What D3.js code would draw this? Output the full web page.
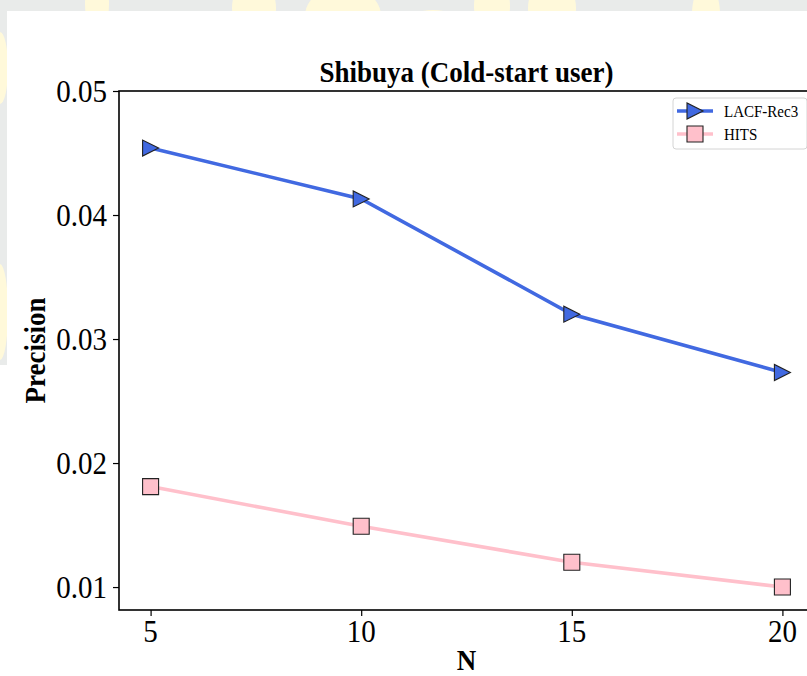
<!DOCTYPE html>
<html>
<head>
<meta charset="utf-8">
<script src="https://cdn.jsdelivr.net/npm/d3@7"></script>
<style>
  html, body { margin: 0; padding: 0; background: #e9ebea; }
  svg { display: block; }
  text { font-family: "Liberation Serif", "Times New Roman", serif; fill: #000; }
</style>
</head>
<body>
<svg id="chart" width="807" height="676"></svg>
<script>
// Top-N recommendation precision, cold-start users in Shibuya
const nValues = [5, 10, 15, 20];
const lacfRec3 = [0.0454, 0.0413, 0.0320, 0.0273];
const hits = [0.0181, 0.0149, 0.0120, 0.0100];
const yTicks = [0.01, 0.02, 0.03, 0.04, 0.05];
const xTicks = [5, 10, 15, 20];
const seriesNames = ["LACF-Rec3", "HITS"];

const W = 807, H = 676;
const STRETCH = 1.08;   // glyphs are drawn slightly taller than wide
const SERIF = '"Liberation Serif", "Times New Roman", serif';
const svg = d3.select("#chart");

// page frame: grey margin with soft yellow pattern, white figure area
svg.append("rect").attr("width", W).attr("height", H).attr("fill", "#e9ebea");
const clip = svg.append("defs").append("clipPath").attr("id", "frame");
clip.append("rect").attr("x", 0).attr("y", 0).attr("width", W).attr("height", 11);
clip.append("rect").attr("x", 0).attr("y", 0).attr("width", 7).attr("height", 365);
const deco = svg.append("g").attr("clip-path", "url(#frame)").attr("fill", "#fff9da");
[[97, 4, 12, 30], [254, 8, 22, 30], [343, 16, 38, 30], [433, 24, 28, 14],
 [492, 6, 18, 30], [552, 8, 24, 30], [706, 14, 14, 30], [0, 68, 8, 36], [0, 312, 8, 48]]
  .forEach(([cx, cy, rx, ry]) => deco.append("ellipse")
    .attr("cx", cx).attr("cy", cy).attr("rx", rx).attr("ry", ry));
svg.append("rect").attr("x", 7).attr("y", 11).attr("width", W - 7).attr("height", H - 11).attr("fill", "#fff");
svg.append("rect").attr("x", 0).attr("y", 365).attr("width", 7).attr("height", H - 365).attr("fill", "#fff");

const plot = { left: 119, right: 814, top: 91, bottom: 610 };

const x = d3.scaleLinear().domain([4.25, 20.75]).range([plot.left, plot.right]);
const y = d3.scaleLinear().domain([0.00815, 0.05]).range([plot.bottom, plot.top]);

// text helper: places a label at (tx, ty) with the vertical stretch applied
function label(parent, tx, ty, str, size, opts = {}) {
  const t = parent.append("text")
    .attr("transform", `translate(${tx},${ty})${opts.rotate ? ` rotate(${opts.rotate})` : ""} scale(1,${STRETCH})`)
    .attr("text-anchor", opts.anchor || "start")
    .attr("dy", opts.dy || null)
    .style("font-family", SERIF)
    .style("font-size", size + "px")
    .style("font-weight", opts.bold ? "bold" : "normal")
    .text(str);
  return t;
}

// axes: ticks from d3, labels drawn with the serif helper
const xAxis = svg.append("g").attr("transform", `translate(0,${plot.bottom})`)
  .call(d3.axisBottom(x).tickValues(xTicks).tickFormat("").tickSize(6).tickSizeOuter(0));
const yAxis = svg.append("g").attr("transform", `translate(${plot.left},0)`)
  .call(d3.axisLeft(y).tickValues(yTicks).tickFormat("").tickSize(6).tickSizeOuter(0));
[xAxis, yAxis].forEach(g => {
  g.select(".domain").remove();
  g.selectAll(".tick line").attr("stroke", "#000").attr("stroke-width", 1.2);
});
const fmtY = d3.format(".2f");
yTicks.forEach(v => label(svg, plot.left - 12, y(v), fmtY(v), 29, { anchor: "end", dy: "0.34em" }));
xTicks.forEach(v => label(svg, x(v), plot.bottom + 32, String(v), 29, { anchor: "middle" }));

// spines (right edge falls outside the page)
svg.append("rect").attr("x", plot.left).attr("y", plot.top)
  .attr("width", plot.right - plot.left).attr("height", plot.bottom - plot.top)
  .attr("fill", "none").attr("stroke", "#000").attr("stroke-width", 1.6);

// series
const triPath = "M8,0 L-8,-8 L-8,8 Z";
const sqPath = "M-8,-8 H8 V8 H-8 Z";
const series = [
  { name: seriesNames[0], values: lacfRec3, color: "#4169e1", marker: triPath },
  { name: seriesNames[1], values: hits, color: "#ffc0cb", marker: sqPath }
];
const line = d3.line().x((d, i) => x(nValues[i])).y(d => y(d));
series.forEach(s => {
  svg.append("path").datum(s.values).attr("d", line)
    .attr("fill", "none").attr("stroke", s.color).attr("stroke-width", 3.6);
  svg.append("g").selectAll("path").data(s.values).join("path")
    .attr("transform", (d, i) => `translate(${x(nValues[i])},${y(d)})`)
    .attr("d", s.marker).attr("fill", s.color).attr("stroke", "#222").attr("stroke-width", 1.1);
});

// title and axis labels
const cx = (plot.left + plot.right) / 2;
label(svg, cx, 82, "Shibuya (Cold-start user)", 27, { anchor: "middle", bold: true });
label(svg, cx, 670, "N", 27, { anchor: "middle", bold: true });
label(svg, 45, (plot.top + plot.bottom) / 2, "Precision", 27, { anchor: "middle", bold: true, rotate: -90 });

// legend
const lg = svg.append("g").attr("transform", "translate(673,98)");
lg.append("rect").attr("width", 134).attr("height", 51).attr("rx", 3)
  .attr("fill", "#fff").attr("stroke", "#d4d4d4").attr("stroke-width", 1);
series.forEach((s, i) => {
  const row = lg.append("g").attr("transform", `translate(0,${13 + i * 23})`);
  row.append("line").attr("x1", 4).attr("x2", 40).attr("stroke", s.color).attr("stroke-width", 3.6);
  row.append("path").attr("transform", "translate(22,0)").attr("d", s.marker)
    .attr("fill", s.color).attr("stroke", "#222").attr("stroke-width", 1.1);
  label(row, 51, 0, s.name, 15, { dy: "0.35em" });
});
</script>
</body>
</html>
